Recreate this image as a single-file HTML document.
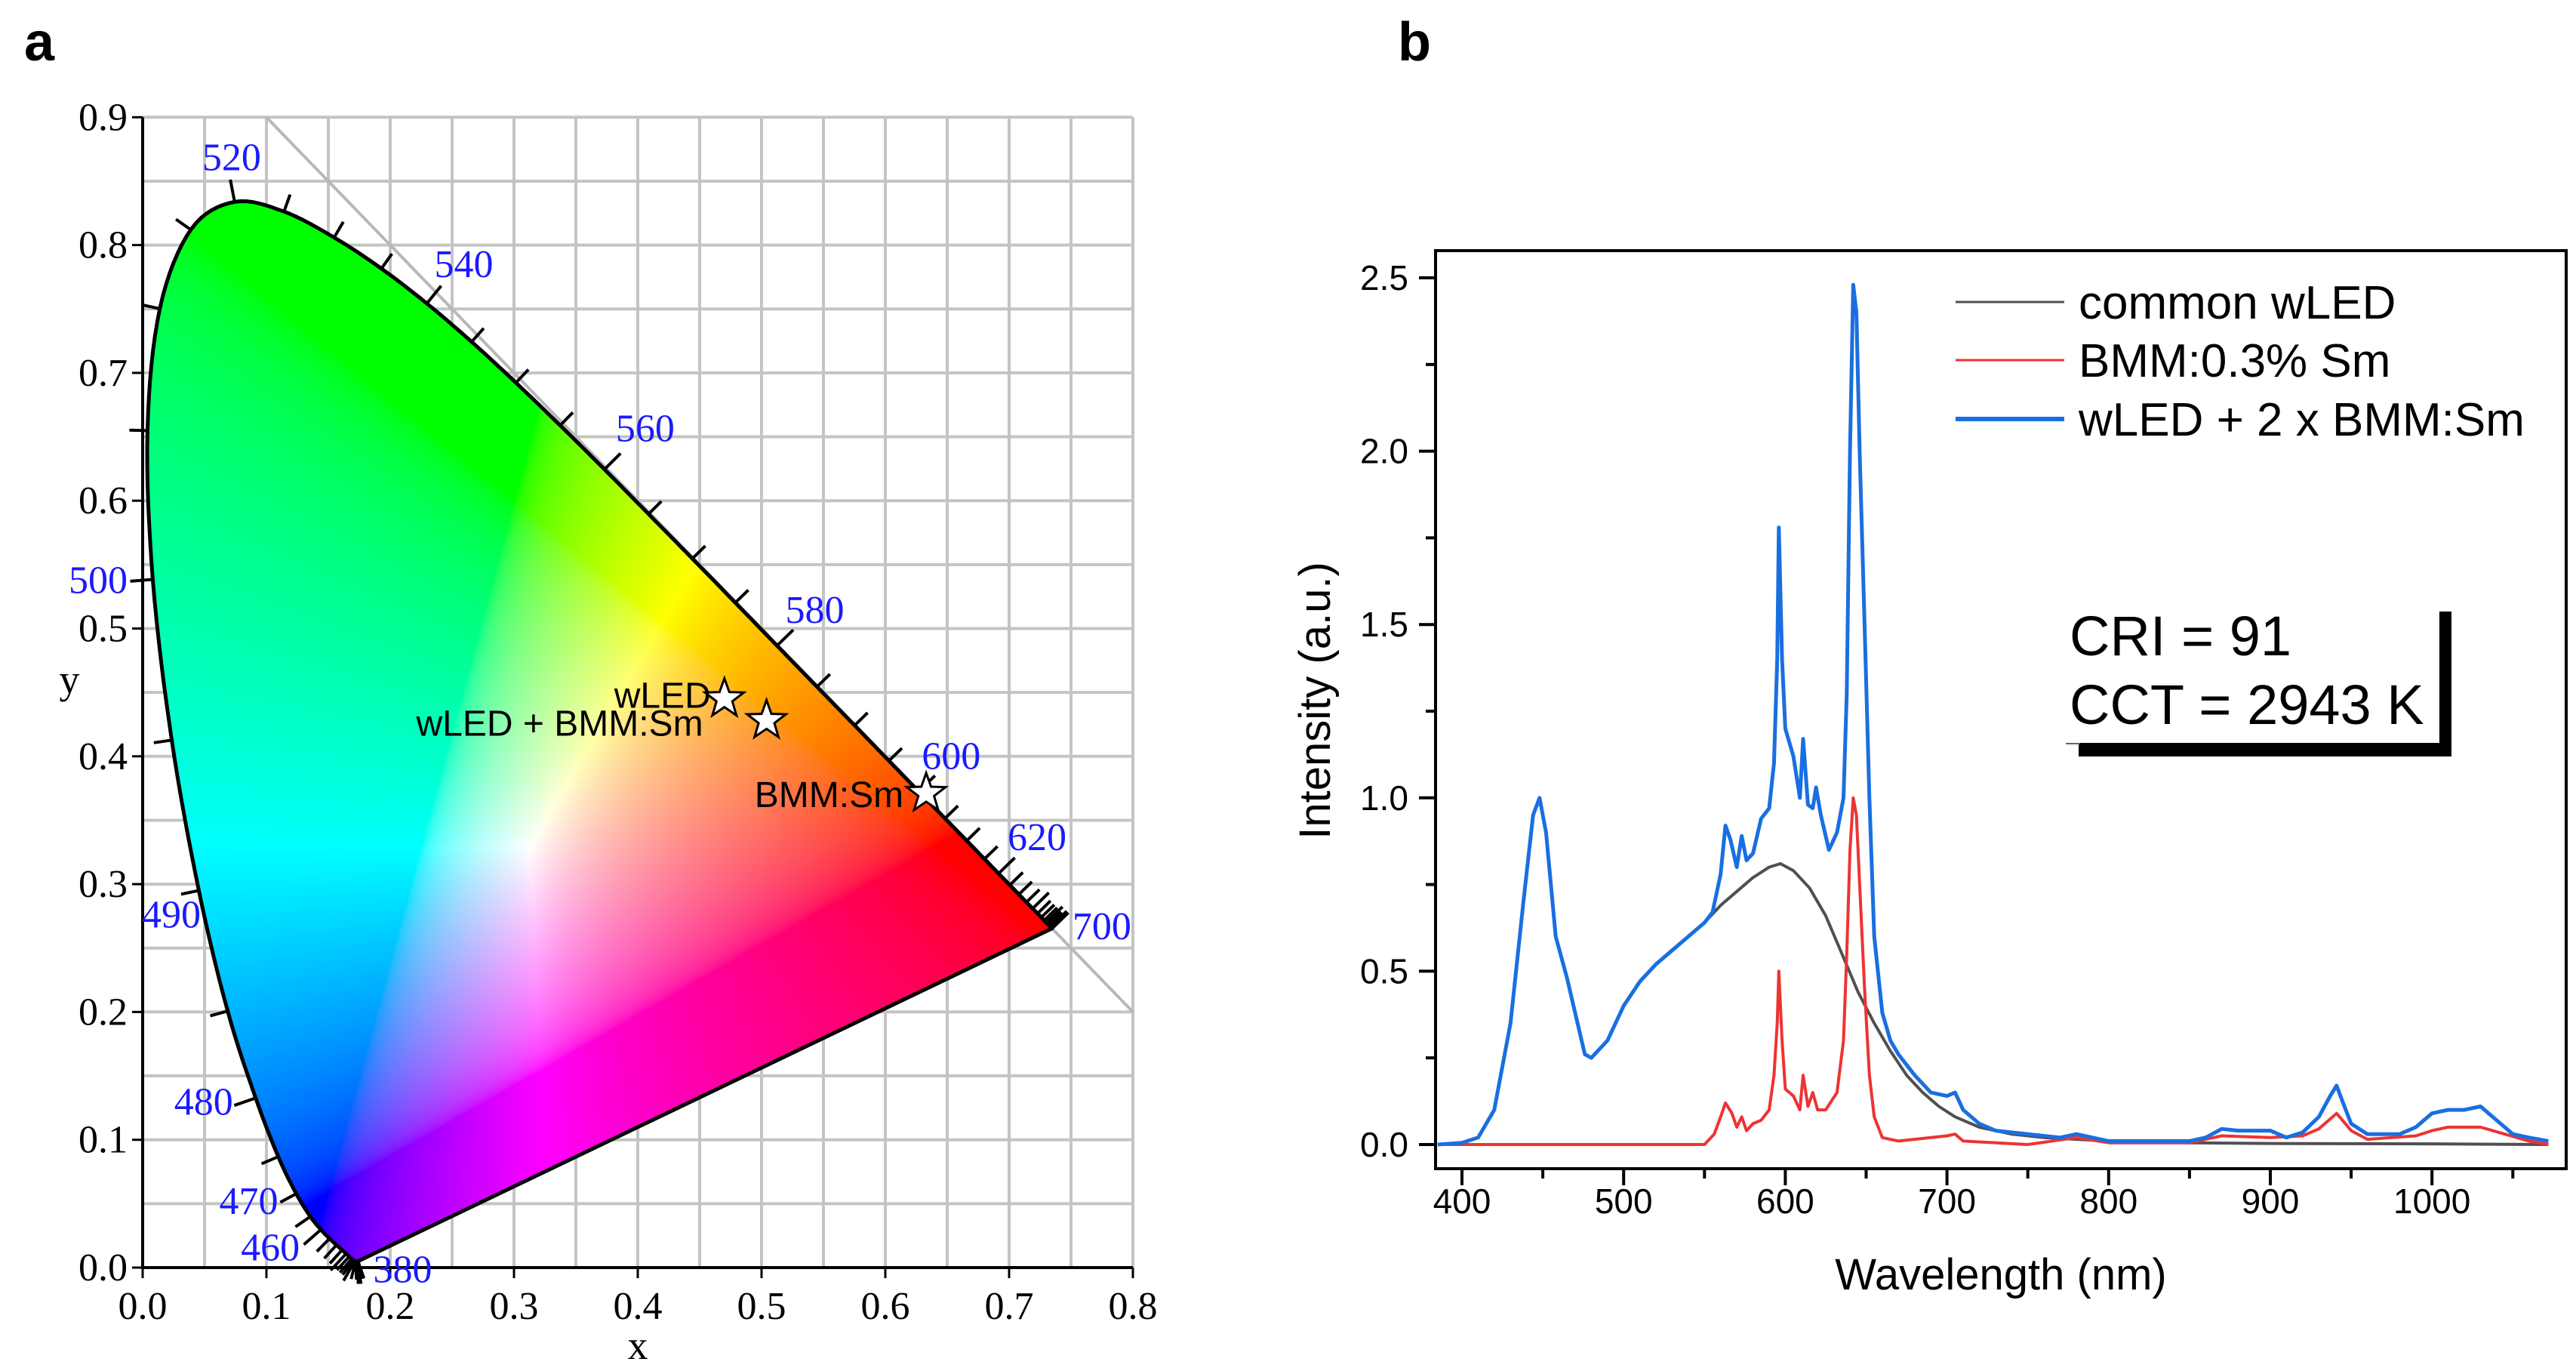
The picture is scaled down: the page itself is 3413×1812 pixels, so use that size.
<!DOCTYPE html>
<html><head><meta charset="utf-8">
<style>
html,body{margin:0;padding:0;background:#fff;}
#root{position:relative;width:3413px;height:1812px;overflow:hidden;background:#fff;}
svg,canvas{position:absolute;left:0;top:0;}
</style></head>
<body>
<div id="root">
<svg id="aback" width="3413" height="1812"></svg>
<canvas id="cie" width="3413" height="1812"></canvas>
<svg id="afront" width="3413" height="1812"></svg>
<svg id="b" width="3413" height="1812"></svg>
</div>
<script>
// ---------- Panel a data ----------
const locusWl = [380,385,390,395,400,405,410,415,420,425,430,435,440,445,450,455,460,465,470,475,480,485,490,495,500,505,510,515,520,525,530,535,540,545,550,555,560,565,570,575,580,585,590,595,600,605,610,615,620,625,630,635,640,645,650,655,660,665,670,675,680,685,690,695,700];
const locusX = [0.1741,0.1740,0.1738,0.1736,0.1733,0.1730,0.1726,0.1721,0.1714,0.1703,0.1689,0.1669,0.1644,0.1611,0.1566,0.1510,0.1440,0.1355,0.1241,0.1096,0.0913,0.0687,0.0454,0.0235,0.0082,0.0039,0.0139,0.0389,0.0743,0.1142,0.1547,0.1929,0.2296,0.2658,0.3016,0.3373,0.3731,0.4087,0.4441,0.4788,0.5125,0.5448,0.5752,0.6029,0.6270,0.6482,0.6658,0.6801,0.6915,0.7006,0.7079,0.7140,0.7190,0.7230,0.7260,0.7283,0.7300,0.7311,0.7320,0.7327,0.7334,0.7340,0.7344,0.7346,0.7347];
const locusY = [0.0050,0.0050,0.0049,0.0049,0.0048,0.0048,0.0048,0.0048,0.0051,0.0058,0.0069,0.0086,0.0109,0.0138,0.0177,0.0227,0.0297,0.0399,0.0578,0.0868,0.1327,0.2007,0.2950,0.4127,0.5384,0.6548,0.7502,0.8120,0.8338,0.8262,0.8059,0.7816,0.7543,0.7243,0.6923,0.6589,0.6245,0.5896,0.5547,0.5202,0.4866,0.4544,0.4242,0.3965,0.3725,0.3514,0.3340,0.3197,0.3083,0.2993,0.2920,0.2859,0.2809,0.2770,0.2740,0.2717,0.2700,0.2689,0.2680,0.2673,0.2666,0.2660,0.2656,0.2654,0.2653];
const cieTicks = [0,0.1,0.2,0.3,0.4,0.5,0.6,0.7,0.8,0.9];
const wlLabels = [380,460,470,480,490,500,520,540,560,580,600,620,700];
const pointNames = ["wLED","wLED + BMM:Sm","BMM:Sm"];
const pointX = [0.470,0.504,0.633];
const pointY = [0.445,0.428,0.371];

// ---------- Panel b data ----------
const blueWl = [385,400,410,420,430,438,444,448,452,458,465,470,476,480,490,500,510,520,530,540,550,555,560,563,566,570,573,576,580,585,590,593,595,596,598,600,605,609,611,614,617,619,622,627,632,636,638,640,642,644,646,649,652,655,660,665,670,680,690,700,705,710,720,730,750,770,780,790,800,850,860,870,880,890,900,910,920,930,937,941,945,950,960,980,990,1000,1010,1020,1030,1040,1050,1060,1072];
const blueVal = [0,0.005,0.02,0.1,0.35,0.7,0.95,1.0,0.9,0.6,0.48,0.38,0.26,0.25,0.3,0.4,0.47,0.52,0.56,0.6,0.64,0.67,0.78,0.92,0.88,0.8,0.89,0.82,0.84,0.94,0.97,1.1,1.4,1.78,1.4,1.2,1.12,1.0,1.17,0.98,0.97,1.03,0.95,0.85,0.9,1.0,1.3,2.0,2.48,2.4,2.0,1.5,1.0,0.6,0.38,0.3,0.26,0.2,0.15,0.14,0.15,0.1,0.06,0.04,0.03,0.02,0.03,0.02,0.01,0.01,0.02,0.045,0.04,0.04,0.04,0.02,0.035,0.08,0.14,0.17,0.12,0.06,0.03,0.03,0.05,0.09,0.1,0.1,0.11,0.07,0.03,0.02,0.01];
const redWl = [385,550,556,560,563,567,570,573,576,580,585,590,593,595,596,598,600,605,609,611,614,617,620,625,632,636,638,640,642,644,646,649,652,655,660,670,700,705,710,750,780,800,850,870,900,920,930,941,950,960,990,1000,1010,1030,1045,1060,1072];
const redVal = [0,0,0.03,0.08,0.12,0.09,0.05,0.08,0.04,0.06,0.07,0.1,0.2,0.35,0.5,0.3,0.16,0.14,0.1,0.2,0.11,0.15,0.1,0.1,0.15,0.3,0.55,0.85,1.0,0.95,0.75,0.45,0.2,0.08,0.02,0.01,0.025,0.03,0.01,0.0,0.02,0.005,0.005,0.025,0.02,0.025,0.045,0.09,0.04,0.015,0.025,0.04,0.05,0.05,0.03,0.01,0.0];
const grayWl = [385,400,410,420,430,438,444,448,452,458,465,470,476,480,490,500,510,520,530,540,550,560,570,580,590,597,605,615,625,635,645,655,665,675,685,695,705,720,740,760,800,850,900,1000,1072];
const grayVal = [0,0.005,0.02,0.1,0.35,0.7,0.95,1.0,0.9,0.6,0.48,0.38,0.26,0.25,0.3,0.4,0.47,0.52,0.56,0.6,0.64,0.69,0.73,0.77,0.8,0.81,0.79,0.74,0.66,0.55,0.44,0.35,0.27,0.2,0.15,0.11,0.08,0.05,0.03,0.02,0.01,0.005,0.003,0.002,0];
const bXTicks = [400,500,600,700,800,900,1000];
const bYTicks = [0,0.5,1.0,1.5,2.0,2.5];

const NS="http://www.w3.org/2000/svg";
function mk(parent,tag,attrs,text){const e=document.createElementNS(NS,tag);for(const k in attrs)e.setAttribute(k,attrs[k]);if(text!==undefined)e.textContent=text;parent.appendChild(e);return e;}

// ---------- Panel a ----------
const ax0=189, axK=1640, ay0=1679, ayK=1693;
const AX=v=>ax0+v*axK, AY=v=>ay0-v*ayK;
const back=document.getElementById('aback');
for(let i=1;i<=16;i++){const v=i*0.05;
  let l=mk(back,'line',{x1:AX(v),x2:AX(v),y1:AY(0),y2:AY(0.9),stroke:'#c4c4c4','stroke-width':4});
  }
for(let i=1;i<=18;i++){const v=i*0.05;
  let l=mk(back,'line',{x1:AX(0),x2:AX(0.8),y1:AY(v),y2:AY(v),stroke:'#c4c4c4','stroke-width':4});
  }
let dg=mk(back,'line',{x1:AX(0.1),y1:AY(0.9),x2:AX(0.8),y2:AY(0.2),stroke:'#b8b8b8','stroke-width':4});


const smooth=[];
(function(){const P=locusX.map((x,i)=>[AX(x),AY(locusY[i])]);const n=P.length;
  for(let i=0;i<n-1;i++){const p0=P[Math.max(0,i-1)],p1=P[i],p2=P[i+1],p3=P[Math.min(n-1,i+2)];
    for(let s=0;s<8;s++){const t=s/8,t2=t*t,t3=t2*t;
      const f=(a,b,c,d)=>0.5*((2*b)+(-a+c)*t+(2*a-5*b+4*c-d)*t2+(-a+3*b-3*c+d)*t3);
      smooth.push([f(p0[0],p1[0],p2[0],p3[0]),f(p0[1],p1[1],p2[1],p3[1])]);}}
  smooth.push(P[n-1]);})();

(function(){
  const c=document.getElementById('cie'),ctx=c.getContext('2d');
  const x1=Math.floor(AX(0)),x2=Math.ceil(AX(0.76)),y1=Math.floor(AY(0.86)),y2=Math.ceil(AY(0));
  const w=x2-x1,h=y2-y1;
  const off=document.createElement('canvas');off.width=w;off.height=h;
  const oc=off.getContext('2d');const img=oc.createImageData(w,h);
  const gam=u=>u<=0.0031308?12.92*u:1.055*Math.pow(u,1/2.4)-0.055;
  for(let j=0;j<h;j++){const y=(ay0-(y1+j))/ayK; if(y<=0.001)continue;
    for(let i=0;i<w;i++){const x=(x1+i-ax0)/axK;
      const X=x/y,Y=1,Z=(1-x-y)/y;
      let r=3.2406*X-1.5372*Y-0.4986*Z,g=-0.9689*X+1.8758*Y+0.0415*Z,b=0.0557*X-0.2040*Y+1.0570*Z;
      r=Math.max(r,0);g=Math.max(g,0);b=Math.max(b,0);const m=Math.max(r,g,b)||1;
      const k=(j*w+i)*4;img.data[k]=255*gam(r/m);img.data[k+1]=255*gam(g/m);img.data[k+2]=255*gam(b/m);img.data[k+3]=255;}}
  oc.putImageData(img,0,0);
  ctx.save();ctx.beginPath();
  smooth.forEach((p,i)=>{i?ctx.lineTo(p[0],p[1]):ctx.moveTo(p[0],p[1]);});
  ctx.closePath();ctx.clip();ctx.drawImage(off,x1,y1);ctx.restore();
})();

const fr=document.getElementById('afront');
let d='';smooth.forEach((p,i)=>{d+=(i?'L':'M')+p[0].toFixed(1)+','+p[1].toFixed(1);});d+='Z';
let lp=mk(fr,'path',{d:d,fill:'none',stroke:'#000','stroke-width':5,'stroke-linejoin':'round'});

for(let i=0;i<locusX.length;i++){
  const a=Math.max(0,i-1),b=Math.min(locusX.length-1,i+1);
  let tx=AX(locusX[b])-AX(locusX[a]),ty=AY(locusY[b])-AY(locusY[a]);const L=Math.hypot(tx,ty)||1;
  let nx=ty/L,ny=-tx/L;const px=AX(locusX[i]),py=AY(locusY[i]);
  const cx=AX(0.33),cy=AY(0.33);if((px-cx)*nx+(py-cy)*ny<0){nx=-nx;ny=-ny;}
  const len=(locusWl[i]%20===0)?30:24;
  let t=mk(fr,'line',{x1:px,y1:py,x2:px+nx*len,y2:py+ny*len,stroke:'#000','stroke-width':4});
  
}
let axl=mk(fr,'line',{x1:AX(0),y1:AY(0.9),x2:AX(0),y2:AY(0)+2,stroke:'#000','stroke-width':4});

let axb=mk(fr,'line',{x1:AX(0)-2,y1:AY(0),x2:AX(0.8),y2:AY(0),stroke:'#000','stroke-width':4});

cieTicks.forEach(v=>{
  if(v<=0.8){let t=mk(fr,'line',{x1:AX(v),x2:AX(v),y1:AY(0),y2:AY(0)+14,stroke:'#000','stroke-width':3});
    
    let l=mk(fr,'text',{x:AX(v),y:AY(0)+68,'text-anchor':'middle','font-family':'Liberation Serif, serif','font-size':52,fill:'#000'},v.toFixed(1));
    }
  let t=mk(fr,'line',{x1:AX(0)-14,x2:AX(0),y1:AY(v),y2:AY(v),stroke:'#000','stroke-width':3});
  
  let l=mk(fr,'text',{x:AX(0)-20,y:AY(v)+17,'text-anchor':'end','font-family':'Liberation Serif, serif','font-size':52,fill:'#000'},v.toFixed(1));
  
});
let xt=mk(fr,'text',{x:845,y:1800,'text-anchor':'middle','font-family':'Liberation Serif, serif','font-size':54},'x');

let yt=mk(fr,'text',{x:92,y:918,'text-anchor':'middle','font-family':'Liberation Serif, serif','font-size':54},'y');

const wlOff={380:[20,28,'start'],460:[-28,41,'end'],470:[-24,27,'end'],480:[-30,22,'end'],490:[7,49,'end'],500:[-34,18,'end'],520:[-4,-42,'middle'],540:[10,-35,'start'],560:[15,-37,'start'],580:[11,-30,'start'],600:[4,-30,'start'],620:[12,-31,'start'],700:[27,14,'start']};
wlLabels.forEach(wl=>{const i=locusWl.indexOf(wl);const o=wlOff[wl];
  let px=AX(locusX[i])+o[0],py=AY(locusY[i])+o[1];
  if(wl===490){px=AX(0)+o[0]+70;}
  if(wl===500){px=AX(0)+2+o[0]+12;}
  let t=mk(fr,'text',{x:px,y:py,'text-anchor':o[2],'font-family':'Liberation Serif, serif','font-size':52,fill:'#1a1aff'},String(wl));
  
});
function starPath(cx,cy,R,r){let s='';for(let k=0;k<10;k++){const ang=-Math.PI/2+k*Math.PI/5;const rr=k%2?r:R;s+=(k?'L':'M')+(cx+rr*Math.cos(ang)).toFixed(1)+','+(cy+rr*Math.sin(ang)).toFixed(1);}return s+'Z';}
const labelPos=[[-18,12],[-84,20],[-30,18]];
pointNames.forEach((nm,i)=>{const px=AX(pointX[i]),py=AY(pointY[i]);
  let s=mk(fr,'path',{d:starPath(px,py,27,11),fill:'#fff',stroke:'#000','stroke-width':3});
  
  const lp=labelPos[i];
  let t=mk(fr,'text',{x:px+lp[0],y:py+lp[1],'text-anchor':'end','font-family':'Liberation Sans, sans-serif','font-size':48,fill:'#000'},nm);
  
});
let pa=mk(fr,'text',{x:32,y:80,'font-family':'Liberation Sans, sans-serif','font-size':72,'font-weight':'bold'},'a');


// ---------- Panel b ----------
const B=document.getElementById('b');
const bx0=1937,bxK=2.142,by0=1516,byK=459.2;
const BX=w=>bx0+(w-400)*bxK, BY=v=>by0-v*byK;
const FL=1902,FR=3400,FT=332,FB=1548;
let frame=mk(B,'rect',{x:FL,y:FT,width:FR-FL,height:FB-FT,fill:'none',stroke:'#000','stroke-width':4});

for(let w=400;w<=1050;w+=50){const maj=w%100===0;
  let t=mk(B,'line',{x1:BX(w),x2:BX(w),y1:FB,y2:FB+(maj?22:13),stroke:'#000','stroke-width':4});
  }
bXTicks.forEach(w=>{let l=mk(B,'text',{x:BX(w),y:1607,'text-anchor':'middle','font-family':'Liberation Sans, sans-serif','font-size':46},String(w));
  });
for(let v=0;v<=2.5001;v+=0.25){const maj=Math.abs(v*2-Math.round(v*2))<1e-6;
  let t=mk(B,'line',{x1:FL-(maj?22:13),x2:FL,y1:BY(v),y2:BY(v),stroke:'#000','stroke-width':4});
  }
bYTicks.forEach(v=>{let l=mk(B,'text',{x:1866,y:BY(v)+16,'text-anchor':'end','font-family':'Liberation Sans, sans-serif','font-size':46},v.toFixed(1));
  });
let bxt=mk(B,'text',{x:2651,y:1708,'text-anchor':'middle','font-family':'Liberation Sans, sans-serif','font-size':58},'Wavelength (nm)');

let byt=mk(B,'text',{x:0,y:0,'text-anchor':'middle','font-family':'Liberation Sans, sans-serif','font-size':58,transform:'translate(1762,928) rotate(-90)'},'Intensity (a.u.)');

function series(ws,vs,color,sw,name){let p='';ws.forEach((w,i)=>{p+=(i?'L':'M')+BX(w).toFixed(1)+','+BY(vs[i]).toFixed(1);});
  let e=mk(B,'path',{d:p,fill:'none',stroke:color,'stroke-width':sw,'stroke-linejoin':'round'});
  }
series(grayWl,grayVal,'#505050',4,'series-common-wled');
series(redWl,redVal,'#ee3333',4,'series-bmm-sm');
series(blueWl,blueVal,'#1a6fe0',5,'series-wled-plus-bmm');
const legNames=['common wLED','BMM:0.3% Sm','wLED + 2 x BMM:Sm'];
const legCol=['#505050','#ee3333','#1a6fe0'];const legY=[400,477,555];const legW=[3,3,6];
legNames.forEach((n,i)=>{
  let l=mk(B,'line',{x1:2591,x2:2735,y1:legY[i],y2:legY[i],stroke:legCol[i],'stroke-width':legW[i]});
  
  let t=mk(B,'text',{x:2754,y:legY[i]+22,'font-family':'Liberation Sans, sans-serif','font-size':62},n);
  });
let c1=mk(B,'text',{x:2742,y:868,'font-family':'Liberation Sans, sans-serif','font-size':74},'CRI = 91');

let c2=mk(B,'text',{x:2742,y:959,'font-family':'Liberation Sans, sans-serif','font-size':74},'CCT = 2943 K');

let s1=mk(B,'rect',{x:3232,y:810,width:16,height:192,fill:'#000'});

let s2=mk(B,'rect',{x:2754,y:984,width:494,height:18,fill:'#000'});

let s3=mk(B,'line',{x1:2737,x2:2756,y1:985,y2:985,stroke:'#666','stroke-width':2});

let pb=mk(B,'text',{x:1852,y:80,'font-family':'Liberation Sans, sans-serif','font-size':72,'font-weight':'bold'},'b');

</script>
</body></html>
